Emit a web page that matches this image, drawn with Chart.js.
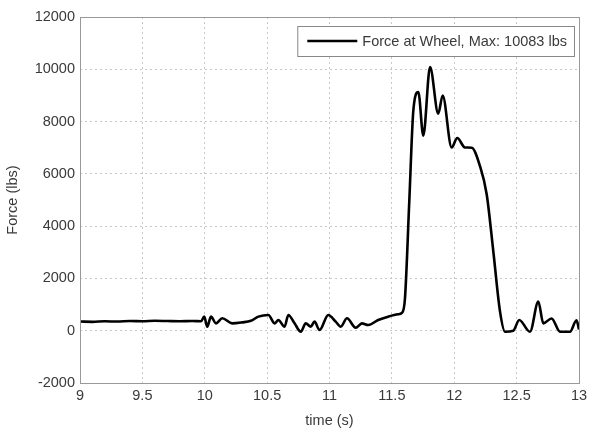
<!DOCTYPE html>
<html>
<head>
<meta charset="utf-8">
<script src="https://cdn.jsdelivr.net/npm/chart.js@4.4.0/dist/chart.umd.min.js"></script>
<style>
  html, body { margin: 0; padding: 0; background: #fff; }
  #wrap { width: 597px; height: 430px; }
</style>
</head>
<body>
<div id="wrap"><canvas id="forceChart"></canvas></div>
<script>
// --- Data ---
const TIMES = [
  9.0, 9.1, 9.2, 9.3, 9.4, 9.5, 9.6, 9.7, 9.8, 9.9, 9.97,
  9.996, 10.02, 10.05, 10.09, 10.14, 10.22, 10.30, 10.37, 10.43, 10.51, 10.56, 10.59,
  10.64, 10.67, 10.72, 10.77, 10.81, 10.85, 10.88, 10.92, 10.99, 11.05, 11.09, 11.14,
  11.21, 11.26, 11.31, 11.39, 11.47, 11.55, 11.58,
  11.605, 11.64, 11.672, 11.712, 11.752, 11.806, 11.872, 11.907, 11.979, 12.024,
  12.086, 12.14, 12.206, 12.26, 12.313, 12.367, 12.407, 12.473, 12.521, 12.607,
  12.674, 12.714, 12.78, 12.848, 12.928, 12.98, 13.0
];
const FORCES = [
  350, 340, 360, 350, 370, 360, 380, 370, 360, 370, 360,
  538, 154, 538, 282, 474, 282, 320, 380, 538, 603, 282, 410,
  154, 603, 282, -38, 282, 154, 346, 25, 603, 346, 154, 474,
  115, 282, 218, 410, 538, 628, 680,
  1240, 5000, 8420, 9130, 7460, 10083, 8300, 9000, 7010, 7370,
  7010, 7000, 6300, 5220, 3040, 730, -40, 0, 410, -40,
  1115, 280, 470, -40, -40, 400, 50
];
const X_TICKS = [9, 9.5, 10, 10.5, 11, 11.5, 12, 12.5, 13];
const Y_TICKS = [-2000, 0, 2000, 4000, 6000, 8000, 10000, 12000];
const SERIES_LABEL = 'Force at Wheel, Max: 10083 lbs';

const FONT = { family: '"Liberation Sans", Arial, sans-serif', size: 14.5 };
const TEXT_COLOR = '#3a3a3a';

// --- Frame round the plot and boxed legend, MATLAB style ---
const frameAndLegend = {
  id: 'frameAndLegend',
  afterDatasetsDraw(chart) {
    const { ctx, chartArea: a } = chart;
    ctx.save();
    ctx.strokeStyle = '#999';
    ctx.lineWidth = 1;
    ctx.strokeRect(a.left + 0.5, a.top + 0.5, a.right - a.left, a.bottom - a.top);

    // legend box
    ctx.font = `${FONT.size}px ${FONT.family}`;
    const label = chart.data.datasets[0].label;
    const tw = ctx.measureText(label).width;
    const w = 10 + 50 + 5 + tw + 7;
    const h = 30;
    const x = a.right - 5 - w;
    const y = a.top + 9;
    ctx.fillStyle = '#fff';
    ctx.fillRect(x, y, w, h);
    ctx.strokeStyle = '#888';
    ctx.strokeRect(x + 0.5, y + 0.5, w, h);
    ctx.strokeStyle = '#000';
    ctx.lineWidth = 2.5;
    ctx.beginPath();
    ctx.moveTo(x + 10, y + h / 2);
    ctx.lineTo(x + 60, y + h / 2);
    ctx.stroke();
    ctx.fillStyle = TEXT_COLOR;
    ctx.textBaseline = 'middle';
    ctx.fillText(label, x + 65, y + h / 2 + 1);
    ctx.restore();
  }
};

const points = TIMES.map((t, i) => ({ x: t, y: FORCES[i] }));

new Chart(document.getElementById('forceChart').getContext('2d'), {
  type: 'line',
  data: {
    datasets: [{
      label: SERIES_LABEL,
      data: points,
      borderColor: '#000',
      borderWidth: 2.6,
      pointRadius: 0,
      cubicInterpolationMode: 'monotone',
      fill: false
    }]
  },
  options: {
    responsive: true,
    maintainAspectRatio: false,
    animation: false,
    layout: { padding: { top: 17, right: 18, left: 0, bottom: 0 } },
    plugins: {
      legend: { display: false },
      tooltip: { enabled: false }
    },
    scales: {
      x: {
        type: 'linear',
        min: 9,
        max: 13,
        afterBuildTicks(scale) { scale.ticks = X_TICKS.map(v => ({ value: v })); },
        afterFit(scale) { scale.height = 47; },
        ticks: { color: TEXT_COLOR, font: FONT, padding: 4, maxRotation: 0, callback: v => String(v) },
        grid: { color: '#c8c8c8', lineWidth: 1, drawTicks: false },
        border: { display: false, dash: [2, 3] },
        title: { display: true, text: 'time (s)', color: TEXT_COLOR, font: FONT, padding: { top: 0, bottom: 0 } }
      },
      y: {
        min: -2000,
        max: 12000,
        afterBuildTicks(scale) { scale.ticks = Y_TICKS.map(v => ({ value: v })); },
        afterFit(scale) { scale.width = 80; },
        ticks: { color: TEXT_COLOR, font: FONT, padding: 5, callback: v => String(v) },
        grid: { color: '#c8c8c8', lineWidth: 1, drawTicks: false },
        border: { display: false, dash: [2, 3] },
        title: { display: true, text: 'Force (lbs)', color: TEXT_COLOR, font: FONT, padding: { top: 4, bottom: 0 } }
      }
    }
  },
  plugins: [frameAndLegend]
});
</script>
</body>
</html>
